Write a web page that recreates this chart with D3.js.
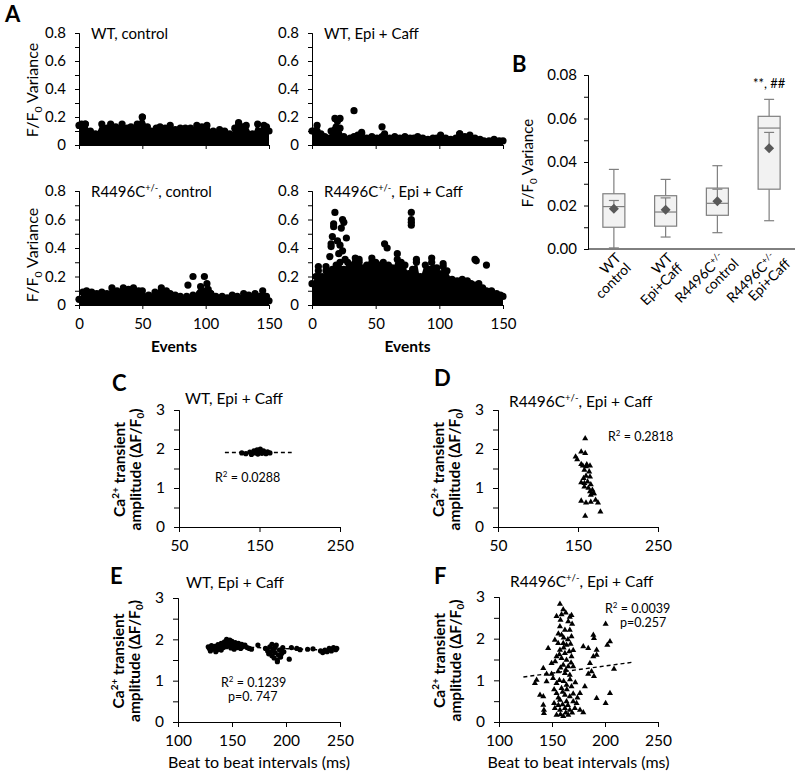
<!DOCTYPE html>
<html lang="en">
<head>
<meta charset="UTF-8">
<title>variance figure</title>
<script src="https://cdn.jsdelivr.net/npm/d3@7"></script>
<style>
  body { margin: 0; background: #fff; }
  text { font-family: Lato, "Open Sans", sans-serif; fill: #000; }
  .domain, .tick line { stroke: #000; }
</style>
</head>
<body>
<svg width="800" height="777"></svg>
<script>
// ---- panel A: top of the dense mass [event, variance] and isolated dots
var wtCtrlTop = [[0,0.14],[2,0.15],[5,0.15],[9,0.1],[13,0.08],[18,0.15],[22,0.12],[25,0.15],[29,0.13],[34,0.15],[38,0.12],[41,0.13],[46,0.15],[50,0.2],[54,0.13],[57,0.1],[61,0.12],[64,0.13],[68,0.12],[72,0.14],[76,0.11],[80,0.12],[84,0.12],[88,0.12],[93,0.14],[97,0.13],[101,0.14],[106,0.1],[111,0.11],[115,0.1],[119,0.08],[123,0.12],[126,0.15],[129,0.13],[132,0.14],[137,0.08],[141,0.15],[144,0.1],[146,0.14],[148,0.13],[150,0.1]]
var wtCtrlOut = [[50,0.2],[5,0.15],[126,0.16]]
var wtEpiTop = [[0,0.1],[1,0.1],[4,0.1],[7,0.08],[10,0.06],[12,0.05],[15,0.1],[18,0.11],[20,0.12],[22,0.12],[25,0.06],[27,0.04],[30,0.05],[33,0.06],[36,0.07],[39,0.08],[43,0.05],[47,0.06],[51,0.05],[55,0.06],[57,0.08],[61,0.05],[65,0.06],[69,0.05],[73,0.06],[77,0.05],[80,0.05],[83,0.06],[87,0.05],[91,0.04],[95,0.05],[98,0.05],[101,0.07],[105,0.05],[109,0.04],[113,0.05],[116,0.08],[120,0.06],[124,0.07],[128,0.05],[132,0.04],[135,0.03],[139,0.03],[143,0.04],[147,0.03],[150,0.03]]
var wtEpiOut = [[4,0.14],[18,0.19],[20,0.17],[22,0.19],[19,0.13],[33,0.245],[55,0.13],[39,0.09],[116,0.08]]
var mutCtrlTop = [[0,0.04],[3,0.09],[6,0.1],[10,0.09],[14,0.08],[18,0.09],[22,0.08],[26,0.12],[30,0.1],[35,0.12],[39,0.11],[43,0.12],[47,0.1],[50,0.1],[55,0.07],[60,0.09],[65,0.12],[69,0.1],[72,0.08],[76,0.07],[80,0.06],[85,0.06],[90,0.07],[95,0.08],[100,0.1],[104,0.08],[108,0.06],[113,0.06],[117,0.05],[121,0.07],[125,0.06],[130,0.08],[134,0.07],[139,0.08],[143,0.06],[145,0.1],[148,0.06],[150,0.03]]
var mutCtrlOut = [[86,0.14],[90,0.2],[96,0.13],[96,0.09],[99,0.2],[101,0.15],[102,0.11],[104,0.08]]
var mutEpiTop = [[0,0.15],[3,0.2],[5,0.24],[8,0.2],[11,0.24],[13,0.22],[16,0.25],[19,0.28],[22,0.3],[25,0.25],[28,0.3],[31,0.28],[34,0.3],[37,0.3],[40,0.26],[43,0.28],[47,0.3],[50,0.3],[53,0.28],[56,0.3],[60,0.28],[63,0.26],[67,0.32],[70,0.3],[73,0.28],[76,0.22],[79,0.25],[82,0.3],[85,0.2],[89,0.28],[92,0.25],[94,0.3],[98,0.26],[100,0.22],[103,0.27],[106,0.24],[110,0.18],[114,0.17],[118,0.18],[122,0.17],[125,0.15],[128,0.14],[131,0.15],[134,0.12],[137,0.1],[141,0.1],[145,0.08],[148,0.07],[150,0.06]]
var mutEpiOut = [[5,0.27],[11,0.27],[14,0.34],[15,0.43],[15,0.41],[16,0.48],[17,0.55],[17,0.57],[18,0.65],[20,0.45],[22,0.42],[23,0.54],[24,0.6],[25,0.58],[24,0.38],[27,0.47],[21,0.36],[26,0.32],[34,0.33],[37,0.32],[47,0.33],[57,0.43],[59,0.4],[67,0.36],[78,0.56],[78,0.58],[78,0.6],[78,0.65],[82,0.32],[94,0.33],[103,0.29],[128,0.32],[129,0.31],[137,0.28]]
var eventTicks = [0, 50, 100, 150]

// ---- panel B: box plot summary
var boxLabels = [['WT', 'control'], ['WT', 'Epi+Caff'], ['R4496C', 'control'], ['R4496C', 'Epi+Caff']]
var boxSup = ['', '', '+/-', '+/-']
var whiskLo = [0.0005, 0.0055, 0.0075, 0.013]
var quart1 = [0.010, 0.0105, 0.0155, 0.0275]
var medians = [0.0195, 0.017, 0.021, 0.0556]
var quart3 = [0.0254, 0.0245, 0.028, 0.061]
var whiskHi = [0.0366, 0.032, 0.0383, 0.0688]
var means = [0.0185, 0.018, 0.022, 0.0463]
var meanUp = [0.0223, 0.0235, 0.0275, 0.0536]

// ---- panels C-F: [beat interval ms, amplitude dF/F0]
var cPts = [[128,1.90],[133,1.88],[138,1.92],[140,1.86],[143,1.95],[145,1.90],[147,1.98],[148,1.87],[150,1.93],[151,2.0],[153,1.89],[155,1.95],[156,1.91],[158,1.88],[160,1.93],[163,1.90]]
var cTrend = [[107,1.91],[190,1.91]]
var dPts = [[159,2.27],[154,1.93],[159,1.89],[147,1.80],[149,1.73],[154,1.61],[156,1.57],[160,1.55],[165,1.57],[158,1.46],[164,1.42],[160,1.31],[165,1.29],[154,1.14],[158,1.12],[162,1.16],[166,1.09],[158,1.03],[163,1.0],[168,0.95],[165,0.91],[169,0.86],[170,0.86],[166,0.82],[154,0.67],[160,0.62],[166,0.64],[172,0.69],[175,0.62],[178,0.39],[159,0.28],[161,1.6],[157,1.25]]
var ePts = [[128,1.82],[129,1.78],[130,1.72],[131,1.85],[132,1.80],[133,1.76],[134,1.83],[135,1.79],[136,1.74],[137,1.87],[138,1.82],[139,1.77],[140,1.90],[141,1.84],[142,1.80],[143,1.94],[144,1.88],[145,1.82],[146,1.97],[147,1.91],[148,1.85],[149,1.79],[150,1.95],[151,1.88],[152,1.83],[153,1.92],[154,1.86],[155,1.80],[156,1.90],[157,1.84],[158,1.78],[159,1.88],[160,1.82],[162,1.86],[164,1.80],[166,1.78],[168,1.76],[145,2.0],[148,1.98],[152,1.76],[140,1.74],[135,1.70],[174,1.86],
  [181,1.78],[183,1.72],[184,1.65],[185,1.82],[186,1.70],[187,1.60],[188,1.76],[189,1.55],[190,1.68],[191,1.86],[192,1.50],[193,1.62],[194,1.74],[195,1.57],[196,1.66],[197,1.80],[198,1.70],[192,1.46],[190,1.80],[187,1.88],[203,1.52],
  [205,1.80],[210,1.78],[213,1.75],[220,1.76],[225,1.77],[232,1.72],[234,1.68],[236,1.74],[238,1.70],[240,1.78],[242,1.72],[244,1.80],[246,1.75],[247,1.78]]
var eTrend = [[128,1.84],[248,1.73]]
var fPts = [[157.5,2.83],[160.6,2.70],[154.3,2.54],[159,2.58],[166.8,2.52],[168.4,2.56],[165.3,2.41],[157.5,2.29],[162.2,2.21],[166.8,2.21],[159,2.09],[168.4,2.05],[152.7,1.97],[155.8,1.89],[160.6,1.89],[163.7,1.85],[167.5,1.87],[146.4,1.77],[157.5,1.73],[162.2,1.65],[166.3,1.69],[154.3,1.57],[159,1.53],[163.7,1.49],[168.4,1.57],[149.6,1.41],[160.6,1.37],[165.3,1.33],[170,1.33],[141.8,1.29],[155.8,1.21],[162.2,1.17],[166.8,1.13],[149.6,1.15],[144.9,1.15],[135.5,1.01],[133.9,0.93],[144.9,0.97],[154.3,0.93],[163.7,0.89],[168.4,0.85],[159,0.81],[154.3,0.69],[162.2,0.65],[166.8,0.61],[138.7,0.65],[141.8,0.61],[157.5,0.53],[163.7,0.49],[170,0.49],[173.2,0.45],[141.8,0.41],[152.7,0.33],[157.5,0.29],[162.2,0.33],[166.8,0.29],[171.6,0.33],[176.4,0.29],[179.5,0.23],[142.4,0.21],[154.3,0.17],[160.6,0.14],[165.3,0.17],[142.4,0.29],
  [158,2.45],[163,2.62],[169,2.35],[156,2.12],[161,2.02],[165,1.98],[157,1.62],[161,1.78],[170,1.72],[153,1.45],[158,1.3],[163,1.25],[168,1.42],[151,1.05],[157,1.0],[161,0.98],[167,1.02],[152,0.78],[156,0.58],[160,0.72],[164,0.78],[170,0.68],[152,0.45],[156,0.4],[160,0.42],[165,0.4],[169,0.22],[158,0.18],[163,0.22],[174,0.58],[172,0.95],
  [179.5,1.81],[184.2,1.77],[189,2.09],[189.6,2.01],[192.1,1.73],[192.1,1.61],[189,1.57],[185.8,1.41],[187.3,1.21],[184.2,1.15],[189.6,1.1],[200.6,2.35],[202.2,1.85],[204.7,1.93],[208.5,1.27],[192.1,0.57],[200.6,0.45],[204.7,0.69],[181,0.85],[176.4,0.69]]
var fTrend = [[123,1.08],[225,1.43]]

var svg = d3.select('svg')

function letter(txt, x, y) {
  svg.append('text').attr('x', x).attr('y', y).attr('font-size', 22).attr('font-weight', 'bold').text(txt)
}

// label of the form  base + superscript + rest
function supText(g, x, y, base, sup, rest, size) {
  var t = g.append('text').attr('x', x).attr('y', y).attr('font-size', size)
  t.append('tspan').text(base)
  if (sup) t.append('tspan').attr('font-size', size * 0.62).attr('dy', -size * 0.38).text(sup)
  t.append('tspan').attr('dy', sup ? size * 0.38 : 0).text(rest)
  return t
}

function varLabel(x, cy, size) {
  var t = svg.append('text').attr('transform', `translate(${x},${cy}) rotate(-90)`)
    .attr('text-anchor', 'middle').attr('font-size', size)
  t.append('tspan').text('F/F')
  t.append('tspan').attr('font-size', size * 0.65).attr('dy', size * 0.25).text('0')
  t.append('tspan').attr('dy', -size * 0.25).text(' Variance')
}

// ---------- panel A
function eventPanel(top, out, xr, yr, title, opts) {
  var x = d3.scaleLinear().domain([0, 150]).range(xr)
  var y = d3.scaleLinear().domain([0, 0.8]).range(yr)
  var g = svg.append('g')
  g.append('path').datum(top)
    .attr('fill', '#000')
    .attr('d', d3.area().x(d => x(d[0])).y0(y(0)).y1(d => y(d[1])).curve(d3.curveMonotoneX))
  g.selectAll('circle.top').data(top).enter().append('circle')
    .attr('cx', d => x(d[0])).attr('cy', d => y(d[1])).attr('r', 3.6).attr('fill', '#000')
  g.selectAll('circle.out').data(out).enter().append('circle')
    .attr('cx', d => x(d[0])).attr('cy', d => y(d[1])).attr('r', 3.6).attr('fill', '#000')

  g.append('g').attr('transform', `translate(${xr[0]},0)`)
    .call(d3.axisLeft(y).tickValues([0.1, 0.3, 0.5, 0.7]).tickSize(4).tickFormat(''))
  var ya = g.append('g').attr('transform', `translate(${xr[0]},0)`)
    .call(d3.axisLeft(y).tickValues([0, 0.2, 0.4, 0.6, 0.8]).tickSize(4).tickSizeOuter(0).tickPadding(9).tickFormat(d => String(d)))
  ya.selectAll('text').attr('font-size', 15).attr('font-family', 'Lato, sans-serif')
  var xa = g.append('g').attr('transform', `translate(0,${yr[0]})`)
    .call(d3.axisBottom(x).tickValues(eventTicks).tickSize(4).tickSizeOuter(0).tickPadding(9)
      .tickFormat(opts.labels ? d => d : ''))
  xa.selectAll('text').attr('font-size', 15).attr('font-family', 'Lato, sans-serif')
  if (opts.labels) {
    g.append('text').attr('x', (xr[0] + xr[1]) / 2).attr('y', yr[0] + 47)
      .attr('text-anchor', 'middle').attr('font-size', 15.5).attr('font-weight', 'bold').text('Events')
  }
  supText(g, xr[0] + 12, yr[1] + 6, title[0], title[1], title[2], 15)
}

letter('A', 5, 22)
eventPanel(wtCtrlTop, wtCtrlOut, [79, 269], [145, 33], ['WT, control', '', ''], {})
eventPanel(wtEpiTop, wtEpiOut, [312, 503], [145, 33], ['WT, Epi + Caff', '', ''], {})
eventPanel(mutCtrlTop, mutCtrlOut, [79, 269], [305, 191], ['R4496C', '+/-', ', control'], { labels: true })
eventPanel(mutEpiTop, mutEpiOut, [312, 503], [305, 191], ['R4496C', '+/-', ', Epi + Caff'], { labels: true })
varLabel(38, 90, 16)
varLabel(38, 255, 16)

// ---------- panel B
letter('B', 512, 72)
var bx = d3.scaleBand().domain(d3.range(boxLabels.length)).range([588, 795])
var by = d3.scaleLinear().domain([0, 0.08]).range([249, 75])
var bg = svg.append('g')
bg.append('g').attr('transform', 'translate(588,0)')
  .call(d3.axisLeft(by).tickValues([0.01, 0.03, 0.05, 0.07]).tickSize(4).tickFormat(''))
var bya = bg.append('g').attr('transform', 'translate(588,0)')
  .call(d3.axisLeft(by).tickValues([0, 0.02, 0.04, 0.06, 0.08]).tickSize(4).tickSizeOuter(0).tickPadding(7).tickFormat(d3.format('.2f')))
bya.selectAll('text').attr('font-size', 15).attr('font-family', 'Lato, sans-serif')
bg.append('line').attr('x1', 588).attr('x2', 795).attr('y1', by(0)).attr('y2', by(0)).attr('stroke', '#000')

var bw = 22
boxLabels.forEach(function (lab, i) {
  var cx = bx(i) + bx.bandwidth() / 2
  var gg = bg.append('g').attr('stroke', '#7f7f7f').attr('stroke-width', 1.2)
  gg.append('line').attr('x1', cx).attr('x2', cx).attr('y1', by(whiskLo[i])).attr('y2', by(quart1[i]))
  gg.append('line').attr('x1', cx).attr('x2', cx).attr('y1', by(quart3[i])).attr('y2', by(whiskHi[i]))
  gg.append('line').attr('x1', cx - 5).attr('x2', cx + 5).attr('y1', by(whiskLo[i])).attr('y2', by(whiskLo[i]))
  gg.append('line').attr('x1', cx - 5).attr('x2', cx + 5).attr('y1', by(whiskHi[i])).attr('y2', by(whiskHi[i]))
  gg.append('rect').attr('x', cx - bw / 2).attr('width', bw)
    .attr('y', by(quart3[i])).attr('height', by(quart1[i]) - by(quart3[i])).attr('fill', '#f2f2f2')
  gg.append('line').attr('x1', cx - bw / 2).attr('x2', cx + bw / 2).attr('y1', by(medians[i])).attr('y2', by(medians[i]))
  gg.append('line').attr('x1', cx).attr('x2', cx).attr('y1', by(means[i])).attr('y2', by(meanUp[i]))
  gg.append('line').attr('x1', cx - 5).attr('x2', cx + 5).attr('y1', by(meanUp[i])).attr('y2', by(meanUp[i]))
  bg.append('path').attr('d', d3.symbol(d3.symbolDiamond2, 64)())
    .attr('transform', `translate(${cx},${by(means[i])})`).attr('fill', '#595959')

  var t = bg.append('text').attr('transform', `translate(${cx + 8},${by(0) + 10}) rotate(-45)`)
    .attr('text-anchor', 'end').attr('font-size', 14)
  t.append('tspan').attr('x', 0).attr('dy', 0).text(lab[0])
  if (boxSup[i]) t.append('tspan').attr('font-size', 9).attr('dy', -5).text(boxSup[i])
  t.append('tspan').attr('x', boxSup[i] ? 6 : 0).attr('dy', boxSup[i] ? 19 : 14).text(lab[1])
})
bg.append('text').attr('x', bx(3) + bx.bandwidth() / 2).attr('y', 88).attr('text-anchor', 'middle')
  .attr('font-size', 13).attr('fill', '#404040').text('**, ##')
varLabel(533, 163, 15)

// ---------- panels C-F
function ampLabel(ax, cy) {
  var t1 = svg.append('text').attr('transform', `translate(${ax - 54},${cy}) rotate(-90)`)
    .attr('text-anchor', 'middle').attr('font-size', 15.5).attr('font-weight', 'bold')
  t1.append('tspan').text('Ca')
  t1.append('tspan').attr('font-size', 10).attr('dy', -6).text('2+')
  t1.append('tspan').attr('dy', 6).text(' transient')
  var t2 = svg.append('text').attr('transform', `translate(${ax - 38},${cy}) rotate(-90)`)
    .attr('text-anchor', 'middle').attr('font-size', 15.5).attr('font-weight', 'bold')
  t2.append('tspan').text('amplitude (ΔF/F')
  t2.append('tspan').attr('font-size', 10).attr('dy', 3).text('0')
  t2.append('tspan').attr('dy', -3).text(')')
}

function ampPanel(o) {
  var x = d3.scaleLinear().domain(o.xd).range(o.xr)
  var y = d3.scaleLinear().domain([0, 3]).range(o.yr)
  var g = svg.append('g')
  g.append('g').attr('transform', `translate(${o.xr[0]},0)`)
    .call(d3.axisLeft(y).tickValues([0.5, 1.5, 2.5]).tickSize(5).tickFormat(''))
  var ya = g.append('g').attr('transform', `translate(${o.xr[0]},0)`)
    .call(d3.axisLeft(y).tickValues([0, 1, 2, 3]).tickSize(5).tickSizeOuter(0).tickPadding(9).tickFormat(d3.format('d')))
  ya.selectAll('text').attr('font-size', 15.5).attr('font-family', 'Lato, sans-serif')
  var xa = g.append('g').attr('transform', `translate(0,${o.yr[0]})`)
    .call(d3.axisBottom(x).tickValues(o.ticks).tickSize(5).tickSizeOuter(0).tickPadding(8))
  xa.selectAll('text').attr('font-size', 15.5).attr('font-family', 'Lato, sans-serif')

  if (o.trend) {
    g.append('path').datum(o.trend).attr('fill', 'none').attr('stroke', '#000')
      .attr('stroke-width', 1.4).attr('stroke-dasharray', '4,3')
      .attr('d', d3.line().x(d => x(d[0])).y(d => y(d[1])))
  }
  if (o.tri) {
    g.selectAll('path.pt').data(o.pts).enter().append('path').attr('class', 'pt')
      .attr('d', d3.symbol(d3.symbolTriangle, 16)())
      .attr('transform', d => `translate(${x(d[0])},${y(d[1])})`).attr('fill', '#000')
  } else {
    g.selectAll('circle').data(o.pts).enter().append('circle')
      .attr('cx', d => x(d[0])).attr('cy', d => y(d[1])).attr('r', 2.6).attr('fill', '#000')
  }
  supText(g, o.title.x, o.title.y, o.title.t[0], o.title.t[1], o.title.t[2], 15.5)
  o.notes.forEach(function (n) {
    var t = g.append('text').attr('x', n[0]).attr('y', n[1]).attr('font-size', 12.5).attr('fill', '#404040')
    if (n[2] === 'R') {
      t.append('tspan').text('R')
      t.append('tspan').attr('font-size', 8).attr('dy', -5).text('2')
      t.append('tspan').attr('dy', 5).text(' = ' + n[3])
    } else {
      t.text(n[3])
    }
  })
  if (o.xlabel) {
    g.append('text').attr('x', (o.xr[0] + o.xr[1]) / 2).attr('y', o.yr[0] + 46)
      .attr('text-anchor', 'middle').attr('font-size', 16).text('Beat to beat intervals (ms)')
  }
  ampLabel(o.xr[0], (o.yr[0] + o.yr[1]) / 2 + 1)
}

letter('C', 112, 391)
ampPanel({ xd: [50, 250], xr: [179, 340], yr: [527, 410], ticks: [50, 150, 250], pts: cPts, trend: cTrend,
  title: { x: 185, y: 404, t: ['WT, Epi + Caff', '', ''] }, notes: [[215, 482, 'R', '0.0288']] })
letter('D', 434, 386)
ampPanel({ xd: [50, 250], xr: [498, 658], yr: [527, 410], ticks: [50, 150, 250], pts: dPts, tri: true,
  title: { x: 509, y: 407, t: ['R4496C', '+/-', ', Epi + Caff'] }, notes: [[608, 441, 'R', '0.2818']] })
letter('E', 110, 584)
ampPanel({ xd: [100, 250], xr: [178, 340], yr: [722, 598], ticks: [100, 150, 200, 250], pts: ePts, trend: eTrend, xlabel: true,
  title: { x: 186, y: 588, t: ['WT, Epi + Caff', '', ''] }, notes: [[221, 687, 'R', '0.1239'], [228, 701, 'p', 'p=0. 747']] })
letter('F', 434, 584)
ampPanel({ xd: [100, 250], xr: [499, 658], yr: [722, 597], ticks: [100, 150, 200, 250], pts: fPts, trend: fTrend, tri: true, xlabel: true,
  title: { x: 510, y: 587, t: ['R4496C', '+/-', ', Epi + Caff'] }, notes: [[605, 613, 'R', '0.0039'], [620, 627, 'p', 'p=0.257']] })
</script>
</body>
</html>
